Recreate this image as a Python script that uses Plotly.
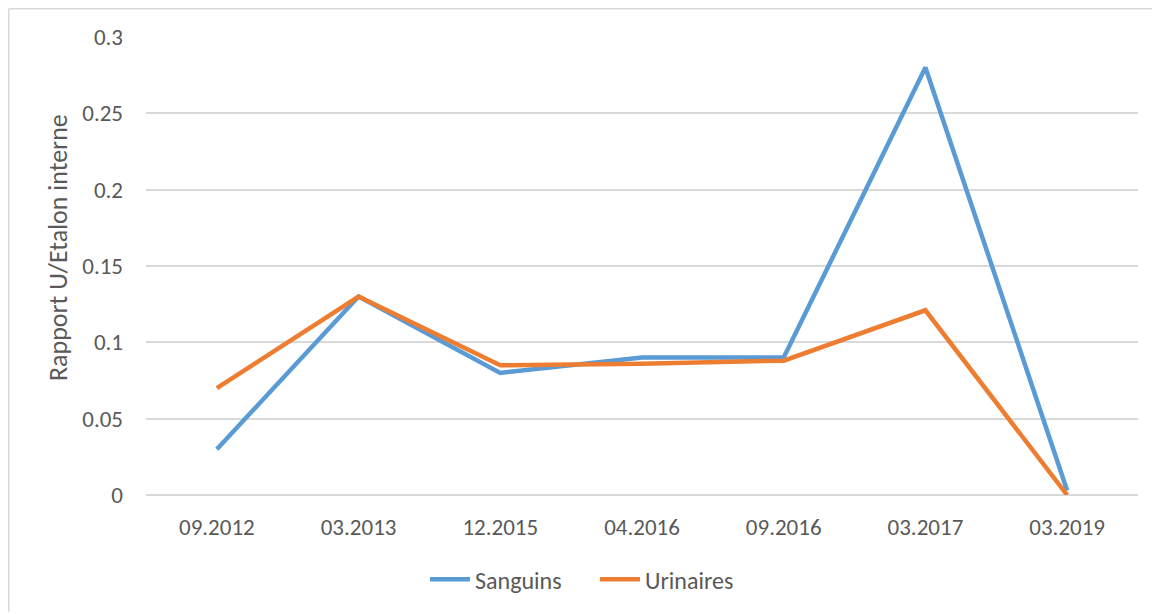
import plotly.graph_objects as go

categories = ["09.2012", "03.2013", "12.2015", "04.2016", "09.2016", "03.2017", "03.2019"]
sanguins = [0.03, 0.13, 0.08, 0.09, 0.09, 0.28, 0.003]
urinaires = [0.07, 0.13, 0.085, 0.086, 0.088, 0.121, 0.0]
y_title = "Rapport U/Etalon interne"

FONT = "Calibri, Carlito, Liberation Sans, Arial, sans-serif"
GREY = "#595959"

# page body has an 8px margin: figure occupies screen x 8..1160, y 8..614
OFF = 8
W, H = 1160 - OFF, 614 - OFF
# screen-space plot area: x 146..1138, y 37..497
L, R, T, B = 146 - OFF, 1160 - 1138, 37 - OFF, 614 - 497
pw, ph = W - L - R, H - T - B

def px(x):
    return (x - OFF - L) / pw

def py(y):
    return (OFF + H - B - y) / ph

fig = go.Figure()
fig.add_trace(go.Scatter(x=categories, y=sanguins, mode="lines", name="Sanguins",
                         line=dict(color="#5B9BD5", width=4.5)))
fig.add_trace(go.Scatter(x=categories, y=urinaires, mode="lines", name="Urinaires",
                         line=dict(color="#ED7D31", width=4.5)))

fig.update_layout(
    width=W, height=H,
    margin=dict(l=L, r=R, t=T, b=B),
    paper_bgcolor="white", plot_bgcolor="white",
    font=dict(family=FONT, color=GREY, size=23),
    showlegend=True,
    legend=dict(orientation="h", x=px(595), y=py(582), xanchor="center", yanchor="middle",
                font=dict(size=24, color=GREY), itemwidth=40, tracegroupgap=0,
                entrywidth=115, entrywidthmode="pixels"),
    xaxis=dict(type="category", range=[-0.5, 6.5], showgrid=False, zeroline=False,
               showline=False, ticks="", ticklabelstandoff=16,
               tickfont=dict(size=23, color=GREY)),
    yaxis=dict(range=[0, 0.3], dtick=0.05, tick0=0, showgrid=True, gridcolor="#D9D9D9",
               gridwidth=1.5, zeroline=True, zerolinecolor="#D9D9D9", zerolinewidth=1.5,
               showline=False, ticks="", ticklabelstandoff=22,
               tickfont=dict(size=23, color=GREY)),
    annotations=[
        dict(text=y_title, xref="paper", yref="paper", x=px(58), y=py(249),
             xanchor="center", yanchor="middle", textangle=-90, showarrow=False,
             font=dict(size=26, color=GREY, family=FONT)),
    ],
    shapes=[
        dict(type="line", xref="paper", yref="paper", x0=px(8.75), x1=px(8.75),
             y0=py(8.75), y1=py(614), line=dict(color="#D9D9D9", width=1.5)),
        dict(type="line", xref="paper", yref="paper", x0=px(8.75), x1=px(1160),
             y0=py(8.75), y1=py(8.75), line=dict(color="#D9D9D9", width=1.5)),
    ],
)

fig.write_html("out.html")
